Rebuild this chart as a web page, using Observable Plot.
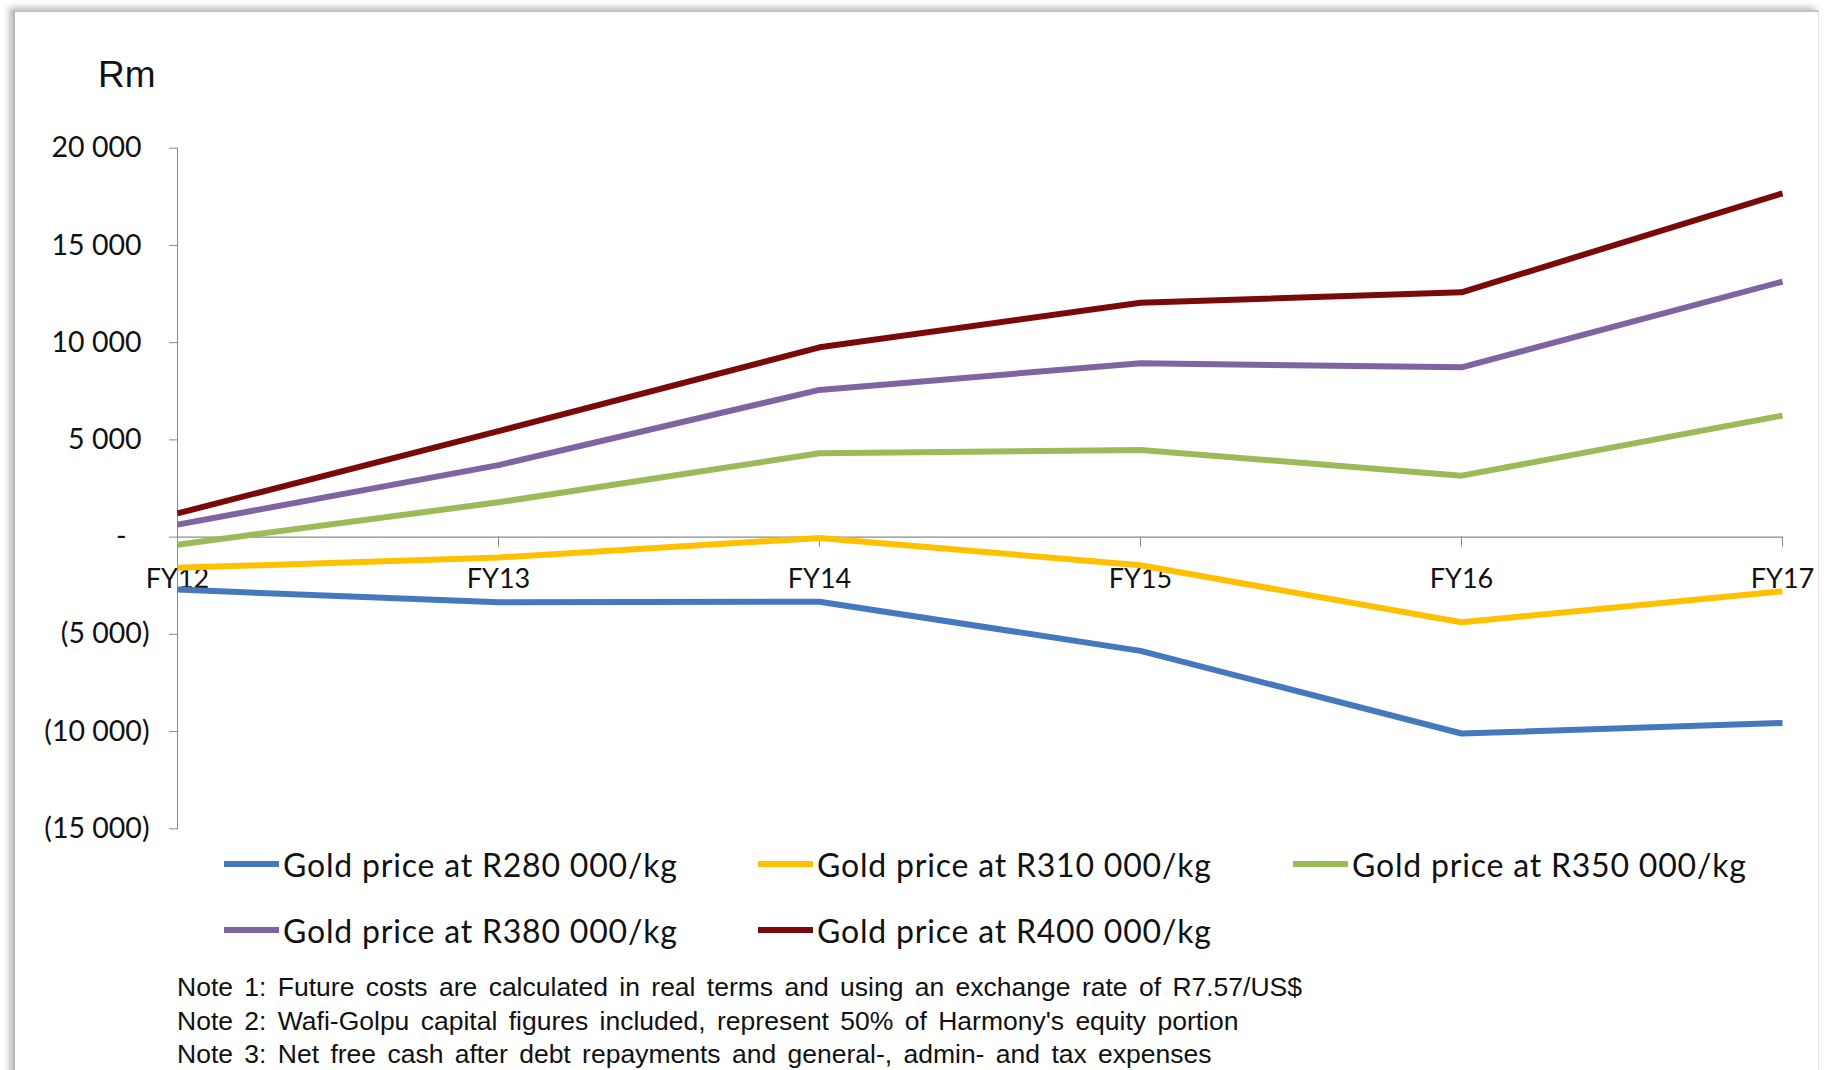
<!DOCTYPE html>
<html>
<head>
<meta charset="utf-8">
<script src="https://cdn.jsdelivr.net/npm/d3@7"></script>
<script src="https://cdn.jsdelivr.net/npm/@observablehq/plot@0.6"></script>
<style>
  html, body { margin: 0; padding: 0; background: #ffffff; }
  body { width: 1824px; height: 1070px; position: relative; overflow: hidden; }
  #box { position: absolute; left: 13px; top: 10px; width: 1803px; height: 1100px;
         border-left: 2px solid #b8b8b8; border-top: 2px solid #c4c4c4; border-right: 1px solid #e4e4e4;
         box-shadow: -4px -3px 6px rgba(0,0,0,0.25); background: #fff; }
  #rm { position: absolute; left: 98px; top: 54px; font-family: "Liberation Sans", Arial, sans-serif; font-size: 37px; color: #111; }
  #chart { position: absolute; left: 0; top: 100px; }
  .leg { position: absolute; font-family: Lato, sans-serif; font-size: 32px; letter-spacing: 0.8px; color: #111; white-space: nowrap; display: flex; align-items: center; }
  .leg .sw { width: 55px; height: 6px; margin-right: 4px; }
  #notes { position: absolute; left: 177px; top: 971px; font-family: "Liberation Sans Narrow", "Arial Narrow", "Liberation Sans", sans-serif; font-size: 26.5px; line-height: 33.6px; color: #111; word-spacing: 4px; white-space: nowrap; }
</style>
</head>
<body>
<div id="box"></div>
<div id="rm">Rm</div>
<div id="chart"></div>
<div id="legend"></div>
<div id="notes"></div>
<script>
const categories = ["FY12", "FY13", "FY14", "FY15", "FY16", "FY17"];
const seriesNames = [
  "Gold price at R280 000/kg",
  "Gold price at R310 000/kg",
  "Gold price at R350 000/kg",
  "Gold price at R380 000/kg",
  "Gold price at R400 000/kg"
];
const seriesColors = ["#4479BE", "#FFC000", "#9BBB59", "#8064A2", "#7A0A0A"];
const r280 = [-2700, -3350, -3320, -5850, -10100, -9560];
const r310 = [-1580, -1050, -40, -1450, -4380, -2790];
const r350 = [-390, 1790, 4310, 4480, 3160, 6250];
const r380 = [640, 3700, 7570, 8940, 8730, 13140];
const r400 = [1220, 5450, 9760, 12050, 12590, 17680];
const yTicks = [20000, 15000, 10000, 5000, 0, -5000, -10000, -15000];
const yTickLabels = ["20 000", "15 000", "10 000", "5 000", "-", "(5 000)", "(10 000)", "(15 000)"];
const notes = [
  "Note 1: Future costs are calculated in real terms and using an exchange rate of R7.57/US$",
  "Note 2: Wafi-Golpu capital figures included, represent 50% of Harmony's equity portion",
  "Note 3: Net free cash after debt repayments and general-, admin- and tax expenses"
];

const allSeries = [r280, r310, r350, r380, r400];
const data = allSeries.flatMap((vals, i) =>
  vals.map((v, j) => ({fy: categories[j], value: v, series: seriesNames[i]})));

const label = d => yTickLabels[yTicks.indexOf(d)];
const axisCommon = {tickFormat: label, stroke: "#8a8a8a", fill: "#111", fontSize: 28.5, fontFamily: "Lato", label: null, tickSize: 8};

const tickShape = {draw(context, l) { context.moveTo(0, 0); context.lineTo(0, -l); }};

const chart = Plot.plot({
  width: 1824,
  height: 741,
  marginLeft: 177,
  marginRight: 42,
  marginTop: 47.7,
  marginBottom: 12.7,
  style: {fontFamily: "Lato", fontSize: "26px", background: "transparent", overflow: "visible"},
  x: {type: "point", domain: categories, padding: 0, axis: null},
  y: {domain: [-15000, 20000], label: null},
  color: {domain: seriesNames, range: seriesColors},
  marks: [
    Plot.frame({anchor: "left", stroke: "#8a8a8a"}),
    Plot.ruleY([0], {stroke: "#8a8a8a", strokeWidth: 1.2}),
    Plot.vector(categories, {x: d => d, y: 0, length: 9, rotate: 180, anchor: "start", shape: tickShape, stroke: "#8a8a8a", strokeWidth: 1}),
    Plot.axisY(yTicks.filter(d => d > 0), {...axisCommon, tickPadding: 28}),
    Plot.axisY(yTicks.filter(d => d < 0), {...axisCommon, tickPadding: 20}),
    Plot.axisY(yTicks.filter(d => d === 0), {...axisCommon, tickPadding: 43}),
    Plot.text(categories, {x: d => d, y: 0, dy: 42, text: d => d, fontSize: 27, fontFamily: "Lato", fill: "#111", textAnchor: "middle"}),
    Plot.lineY(data, {x: "fy", y: "value", z: "series", stroke: "series", strokeWidth: 6, strokeLinecap: "butt", strokeLinejoin: "round"})
  ]
});
document.getElementById("chart").appendChild(chart);

// legend (HTML, below the chart area)
const legend = document.getElementById("legend");
const legX = [224, 758, 1293];
const legY = [864, 930];
seriesNames.forEach((name, i) => {
  const el = document.createElement("div");
  el.className = "leg";
  el.style.left = legX[i % 3] + "px";
  el.style.top = (legY[Math.floor(i / 3)] - 20) + "px";
  el.style.height = "40px";
  const sw = document.createElement("span");
  sw.className = "sw";
  sw.style.background = seriesColors[i];
  el.appendChild(sw);
  const t = document.createElement("span");
  t.textContent = name;
  el.appendChild(t);
  legend.appendChild(el);
});

const notesEl = document.getElementById("notes");
notes.forEach(n => {
  const d = document.createElement("div");
  d.textContent = n;
  notesEl.appendChild(d);
});
</script>
</body>
</html>
